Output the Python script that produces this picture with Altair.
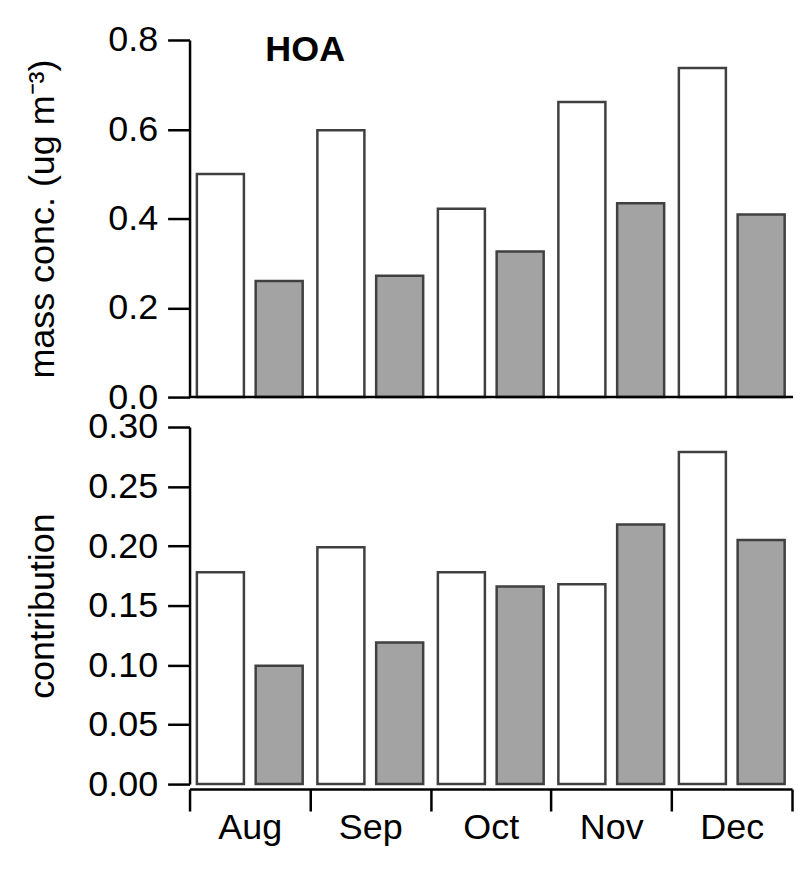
import altair as alt
import pandas as pd

months = ["Aug", "Sep", "Oct", "Nov", "Dec"]
series = ["Series 1", "Series 2"]
mass_s1 = [0.500, 0.598, 0.422, 0.661, 0.737]
mass_s2 = [0.260, 0.272, 0.326, 0.434, 0.409]
contrib_s1 = [0.178, 0.199, 0.178, 0.168, 0.279]
contrib_s2 = [0.0995, 0.119, 0.166, 0.218, 0.205]
mass_ticks = [0.0, 0.2, 0.4, 0.6, 0.8]
contrib_ticks = [0.0, 0.05, 0.10, 0.15, 0.20, 0.25, 0.30]
panel_title = "HOA"

FONT = "Liberation Sans"
W, H = 604, 358
FS = 36


def long_frame(v1, v2):
    rows = []
    for m, a, b in zip(months, v1, v2):
        rows.append({"month": m, "series": series[0], "value": a})
        rows.append({"month": m, "series": series[1], "value": b})
    return pd.DataFrame(rows)


df_mass = long_frame(mass_s1, mass_s2)
df_contrib = long_frame(contrib_s1, contrib_s2)

x_scale = alt.Scale(domain=months, paddingInner=0, paddingOuter=0)
off_scale = alt.Scale(domain=series, paddingInner=0.2, paddingOuter=0.125)
color = alt.Color("series:N", scale=alt.Scale(domain=series, range=["#ffffff", "#a3a3a3"]), legend=None)


def y_axis(ticks, fmt, title):
    return alt.Axis(
        values=ticks, format=fmt, title=title,
        tickSize=22, tickWidth=2.5, tickColor="black",
        domainWidth=2.5, domainColor="black",
        labelFont=FONT, labelFontSize=FS, labelColor="black", labelPadding=10,
        titleFont=FONT, titleFontSize=FS, titleColor="black", titleFontWeight="normal",
        titleX=-136, titleBaseline="alphabetic", grid=False,
    )


bars_top = alt.Chart(df_mass).mark_bar(stroke="#404040", strokeWidth=2.5).encode(
    x=alt.X("month:N", scale=x_scale, sort=months, axis=None),
    xOffset=alt.XOffset("series:N", scale=off_scale, sort=series),
    y=alt.Y("value:Q", scale=alt.Scale(domain=[0, 0.8], nice=False),
            axis=y_axis(mass_ticks, ".1f", "mass conc. (ug m⁻³)")),
    color=color,
)

baseline_top = alt.Chart(pd.DataFrame({"a": [0]})).mark_rule(color="black", strokeWidth=2.5).encode(
    x=alt.value(0), x2=alt.value(W + 1), y=alt.value(H)
)

hoa = alt.Chart(pd.DataFrame({"t": [panel_title]})).mark_text(
    font=FONT, fontSize=FS, fontWeight="bold", align="center", baseline="alphabetic", color="black"
).encode(text="t:N", x=alt.value(116), y=alt.value(21))

top = alt.layer(bars_top, baseline_top, hoa).properties(width=W, height=H)

bottom = alt.Chart(df_contrib).mark_bar(stroke="#404040", strokeWidth=2.5).encode(
    x=alt.X("month:N", scale=x_scale, sort=months,
            axis=alt.Axis(title=None, tickBand="extent", tickSize=22, tickWidth=2.5, tickColor="black",
                          domainWidth=2.5, domainColor="black", offset=5, labelAngle=0,
                          labelFont=FONT, labelFontSize=FS, labelColor="black", labelPadding=0)),
    xOffset=alt.XOffset("series:N", scale=off_scale, sort=series),
    y=alt.Y("value:Q", scale=alt.Scale(domain=[0, 0.30], nice=False),
            axis=y_axis(contrib_ticks, ".2f", "contribution")),
    color=color,
).properties(width=W, height=H)

chart = alt.vconcat(top, bottom, spacing=30, bounds="flush").properties(
    padding={"top": 13, "left": 16, "right": 0, "bottom": 5},
    background="white",
).configure_view(stroke=None)

chart.save("out.html", embed_options={"renderer": "svg", "actions": False})
